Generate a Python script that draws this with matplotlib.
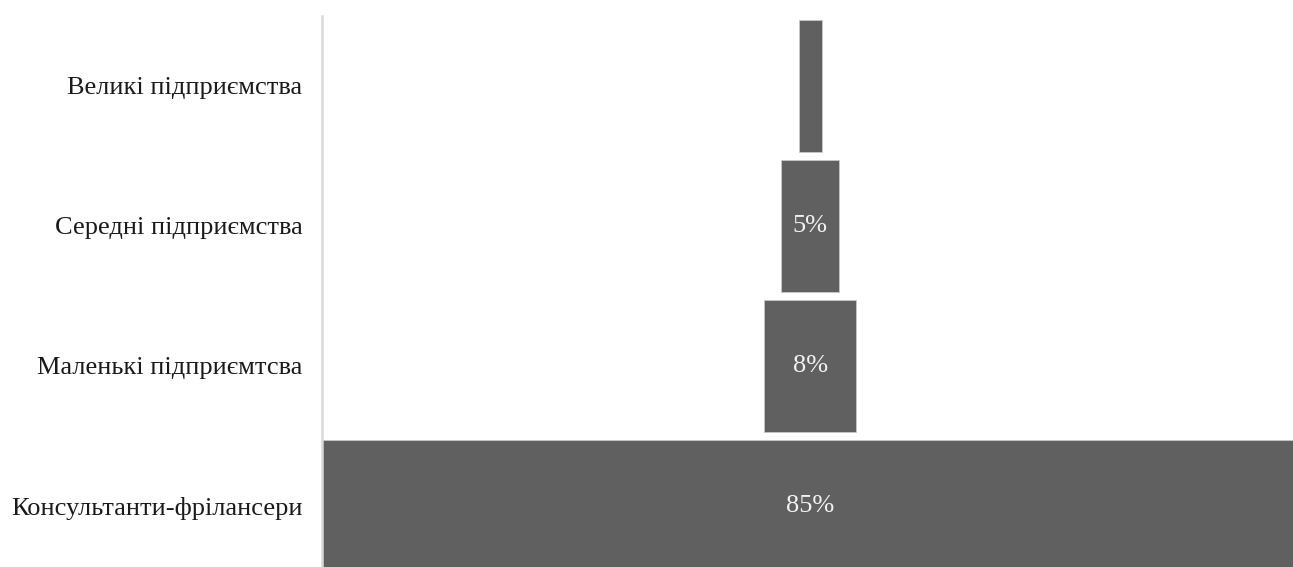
import matplotlib
matplotlib.use("Agg")
import matplotlib.pyplot as plt

plt.rcParams["font.family"] = ["Liberation Serif", "DejaVu Serif"]

# funnel levels, bottom to top
categories = [
    "Консультанти-фрілансери",
    "Маленькі підприємтсва",
    "Середні підприємства",
    "Великі підприємства",
]
shares = [85, 8, 5, 2]
labels = ["85%", "8%", "5%", ""]

BAR_COLOR = "#606060"

fig = plt.figure(figsize=(12.93, 5.67), dpi=100)
ax = fig.add_axes([322 / 1293, 0, 1 - 322 / 1293, (567 - 16) / 567])

y = range(len(categories))
lefts = [-s / 2 for s in shares]
bars = ax.barh(y, shares, left=lefts, height=0.943, color=BAR_COLOR,
               edgecolor="#c8c8c8", linewidth=0.6)

for bar, txt in zip(bars, labels):
    if txt:
        ax.text(bar.get_x() + bar.get_width() / 2,
                bar.get_y() + bar.get_height() / 2, txt,
                ha="center", va="center", color="#f2f2f2", fontsize=19)

# widest bar runs slightly past the right edge
ax.set_xlim(-max(shares) / 2, max(shares) / 2 - 0.45)
ax.set_ylim(-0.436, len(categories) - 0.5)
ax.set_yticks(list(y))
ax.set_yticklabels(categories, fontsize=19, color="#1a1a1a")
ax.tick_params(axis="y", length=0, pad=14)
ax.set_xticks([])

for side in ["top", "right", "bottom"]:
    ax.spines[side].set_visible(False)
ax.spines["left"].set_color("#d9d9d9")
ax.spines["left"].set_linewidth(1.8)

fig.savefig("out.png", dpi=100)
